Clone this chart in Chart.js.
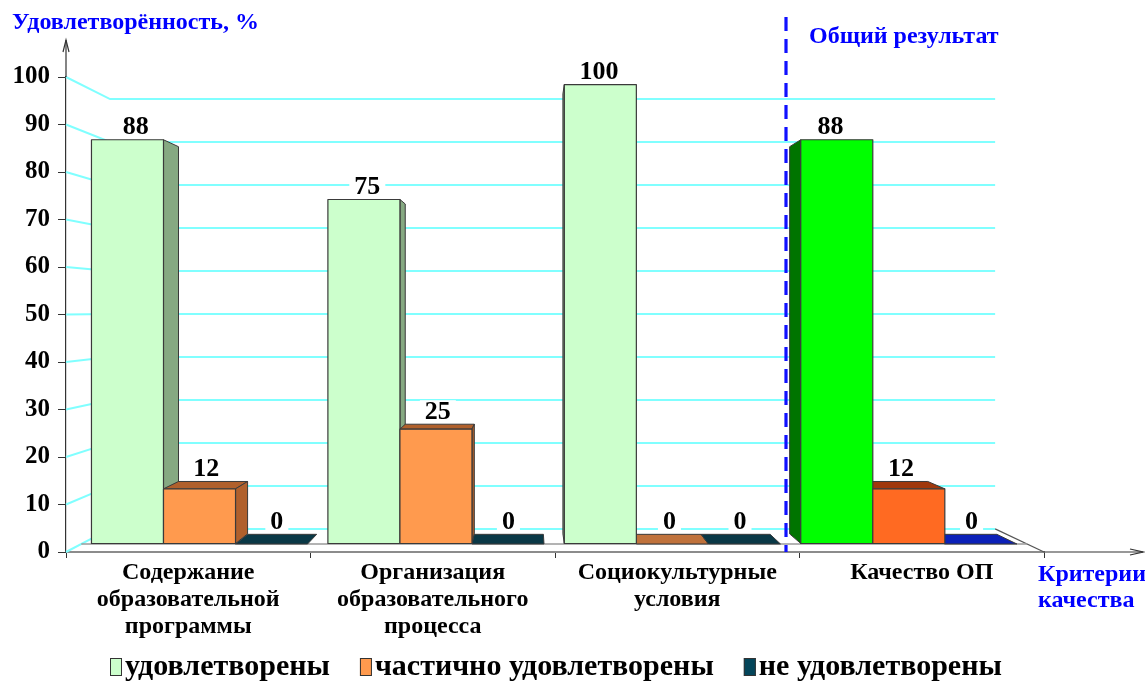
<!DOCTYPE html>
<html><head><meta charset="utf-8">
<script src="https://cdn.jsdelivr.net/npm/chart.js@4.4.1/dist/chart.umd.min.js"></script>
<style>html,body{margin:0;padding:0;background:#fff;overflow:hidden}</style>
</head><body>
<canvas id="c" width="1145" height="681"></canvas>
<script>
// ---- data ----
const categories = [
  ['Содержание', 'образовательной', 'программы'],
  ['Организация', 'образовательного', 'процесса'],
  ['Социокультурные', 'условия'],
  ['Качество ОП']
];
const seriesNames = ['удовлетворены', 'частично удовлетворены', 'не удовлетворены'];
const satisfied = [88, 75, 100, 88];
const partlySatisfied = [12, 25, 0, 12];
const notSatisfied = [0, 0, 0, 0];
const yMin = 0, yMax = 100, yStep = 10;
const yAxisTitle = 'Удовлетворённость, %';
const xAxisTitle = ['Критерии', 'качества'];
const groupTitle = 'Общий результат';

// ---- styles ----
const frontColors = [
  ['#ccffcc', '#ccffcc', '#ccffcc', '#00ff00'],
  ['#ff9a4e', '#ff9a4e', '#ff9a4e', '#ff6a22'],
  ['#03455a', '#03455a', '#03455a', '#0000c8']
];
const depthColors = [
  ['#86a982', '#86a982', '#86a982', '#007400'],
  ['#b0602c', '#b0602c', '#c0723c', '#a0380c'],
  ['#0a3846', '#0a3846', '#0a3846', '#0b20b8']
];
const serif = 'Liberation Serif';
const gridCyan = '#80ffff';
const edge = '#3a3a3a';

// perspective (fractions of chart area)
const VP_FX = 0.474, VP_FY = 0.488;
const K_BAR = 0.967, K_DEPTH = 0.959, K_WALL = 0.905, K_DIV = 0.95;

function mkProj(area) {
  const vx = area.left + (area.right - area.left) * VP_FX;
  const vy = area.top + (area.bottom - area.top) * VP_FY;
  return {
    vx, vy,
    p: (x, y, k) => ({ x: vx + (x - vx) * k, y: vy + (y - vy) * k })
  };
}
function poly(ctx, pts, fill, stroke, lw) {
  ctx.beginPath();
  ctx.moveTo(pts[0].x, pts[0].y);
  for (let i = 1; i < pts.length; i++) ctx.lineTo(pts[i].x, pts[i].y);
  ctx.closePath();
  if (fill) { ctx.fillStyle = fill; ctx.fill(); }
  if (stroke) { ctx.strokeStyle = stroke; ctx.lineWidth = lw || 1; ctx.stroke(); }
}

const plugin3d = {
  id: 'bars3d',
  beforeDatasetsDraw(chart) {
    const ctx = chart.ctx, area = chart.chartArea, P = mkProj(area);
    const ys = chart.scales.y;
    ctx.save();
    ctx.strokeStyle = gridCyan; ctx.lineWidth = 2;
    ys.ticks.forEach(t => {
      const yF = ys.getPixelForValue(t.value);
      const b = P.p(area.left, yF, K_WALL), c = P.p(area.right, yF, K_WALL);
      ctx.beginPath(); ctx.moveTo(area.left, yF); ctx.lineTo(b.x, b.y); ctx.lineTo(c.x, c.y); ctx.stroke();
    });
    const fr = P.p(area.right, area.bottom, K_WALL);
    ctx.strokeStyle = '#555'; ctx.lineWidth = 1.2;
    ctx.beginPath(); ctx.moveTo(fr.x, fr.y); ctx.lineTo(area.right, area.bottom); ctx.stroke();
    const l1 = P.p(area.left, area.bottom, K_BAR), l2 = P.p(area.right, area.bottom, K_BAR);
    ctx.strokeStyle = '#9a9a9a'; ctx.lineWidth = 1.5;
    ctx.beginPath(); ctx.moveTo(l1.x, l1.y); ctx.lineTo(l2.x, l2.y); ctx.stroke();
    ctx.restore();
  },
  beforeDatasetDraw() { return false; },
  afterDatasetsDraw(chart) {
    const ctx = chart.ctx, area = chart.chartArea, P = mkProj(area);
    const faces = [], fronts = [], labels = [];
    const kb2 = K_BAR * K_DEPTH;
    chart.data.datasets.forEach((ds, di) => {
      const meta = chart.getDatasetMeta(di);
      meta.data.forEach((bar, i) => {
        const x0 = bar.x - bar.width / 2, x1 = bar.x + bar.width / 2;
        const y = bar.y, base = bar.base;
        const f = [P.p(x0, y, K_BAR), P.p(x1, y, K_BAR), P.p(x1, base, K_BAR), P.p(x0, base, K_BAR)];
        const b = [P.p(x0, y, kb2), P.p(x1, y, kb2), P.p(x1, base, kb2), P.p(x0, base, kb2)];
        const dc = depthColors[di][i];
        const h = f[3].y - f[0].y;
        if (f[0].y > P.vy) faces.push({ pts: [f[0], f[1], b[1], b[0]], color: dc });
        if (h > 0.5 && f[1].x < P.vx) faces.push({ pts: [f[1], b[1], b[2], f[2]], color: dc });
        if (h > 0.5 && f[0].x > P.vx + 3) faces.push({ pts: [f[0], b[0], b[3], f[3]], color: dc });
        if (h > 0.5) fronts.push({ pts: f, color: frontColors[di][i] });
        labels.push({
          x: (f[0].x + f[1].x + b[0].x + b[1].x) / 4,
          y: Math.min(f[0].y, b[0].y) - 13,
          text: String(ds.data[i])
        });
      });
    });
    ctx.save();
    ctx.lineJoin = 'round';
    faces.forEach(fc => poly(ctx, fc.pts, fc.color, edge, 1));
    fronts.forEach(fc => poly(ctx, fc.pts, fc.color, edge, 1.2));
    ctx.font = 'bold 26px "' + serif + '"';
    ctx.textAlign = 'center'; ctx.textBaseline = 'middle';
    labels.forEach(l => {
      const w = ctx.measureText(l.text).width;
      ctx.fillStyle = '#fff';
      ctx.fillRect(l.x - w / 2 - 5, l.y - 11, w + 10, 20);
      ctx.fillStyle = '#000';
      ctx.fillText(l.text, l.x, l.y + 1);
    });
    ctx.restore();
  },
  afterDraw(chart) {
    const ctx = chart.ctx, area = chart.chartArea, P = mkProj(area);
    const xs = chart.scales.x;
    ctx.save();
    const bx = (xs.getPixelForValue(2) + xs.getPixelForValue(3)) / 2;
    const dx = P.p(bx, 0, K_DIV).x;
    ctx.strokeStyle = '#1010ff'; ctx.lineWidth = 3.2; ctx.setLineDash([14, 8]);
    ctx.beginPath(); ctx.moveTo(dx, 17); ctx.lineTo(dx, area.bottom); ctx.stroke();
    ctx.setLineDash([]);
    ctx.strokeStyle = '#333'; ctx.lineWidth = 1.2;
    ctx.beginPath(); ctx.moveTo(area.left, area.top); ctx.lineTo(area.left, 40); ctx.stroke();
    ctx.beginPath(); ctx.moveTo(area.left - 3, 52); ctx.lineTo(area.left, 40); ctx.lineTo(area.left + 3, 52); ctx.stroke();
    ctx.beginPath(); ctx.moveTo(area.right, area.bottom); ctx.lineTo(1143, area.bottom); ctx.stroke();
    ctx.beginPath(); ctx.moveTo(1130, area.bottom - 3); ctx.lineTo(1143, area.bottom); ctx.lineTo(1130, area.bottom + 3); ctx.stroke();
    ctx.fillStyle = '#0000ff';
    ctx.font = 'bold 24px "' + serif + '"';
    ctx.textAlign = 'left'; ctx.textBaseline = 'middle';
    ctx.fillText(yAxisTitle, 12, 23);
    ctx.fillText(groupTitle, 809, 37);
    ctx.fillText(xAxisTitle[0], 1038, 575);
    ctx.fillText(xAxisTitle[1], 1038, 601);
    ctx.font = 'bold 30px "' + serif + '"';
    let lx = 110;
    const ly = 667;
    chart.data.datasets.forEach((ds, di) => {
      ctx.fillStyle = frontColors[di][0];
      ctx.fillRect(lx, ly - 9, 12, 18);
      ctx.strokeStyle = '#333'; ctx.lineWidth = 1;
      ctx.strokeRect(lx + 0.5, ly - 8.5, 11, 17);
      ctx.fillStyle = '#000';
      ctx.fillText(ds.label, lx + 15, ly);
      lx += 15 + ctx.measureText(ds.label).width + 30;
    });
    ctx.restore();
  }
};

new Chart(document.getElementById('c').getContext('2d'), {
  type: 'bar',
  data: {
    labels: categories,
    datasets: [
      { label: seriesNames[0], data: satisfied, backgroundColor: frontColors[0] },
      { label: seriesNames[1], data: partlySatisfied, backgroundColor: frontColors[1] },
      { label: seriesNames[2], data: notSatisfied, backgroundColor: frontColors[2] }
    ]
  },
  options: {
    responsive: false,
    animation: false,
    events: [],
    layout: { padding: { top: 77, right: 101, left: 0, bottom: 0 } },
    datasets: { bar: { categoryPercentage: 0.914, barPercentage: 1 } },
    plugins: { legend: { display: false }, tooltip: { enabled: false } },
    scales: {
      x: {
        grid: { display: true, drawOnChartArea: false, tickLength: 6, color: '#333', offset: true },
        border: { color: '#8c8c8c', width: 2 },
        ticks: {
          font: { family: serif, weight: 'bold', size: 24, lineHeight: 1.13 },
          color: '#000', padding: 1, maxRotation: 0, autoSkip: false
        },
        afterFit(s) { s.height = 129; }
      },
      y: {
        min: yMin, max: yMax,
        ticks: { stepSize: yStep, font: { family: serif, weight: 'bold', size: 25 }, color: '#000', padding: 8 },
        grid: { drawOnChartArea: false, tickLength: 8, color: '#333' },
        border: { color: '#333', width: 1.2 },
        afterFit(s) { s.width = 66; }
      }
    }
  },
  plugins: [plugin3d]
});
</script>
</body></html>
